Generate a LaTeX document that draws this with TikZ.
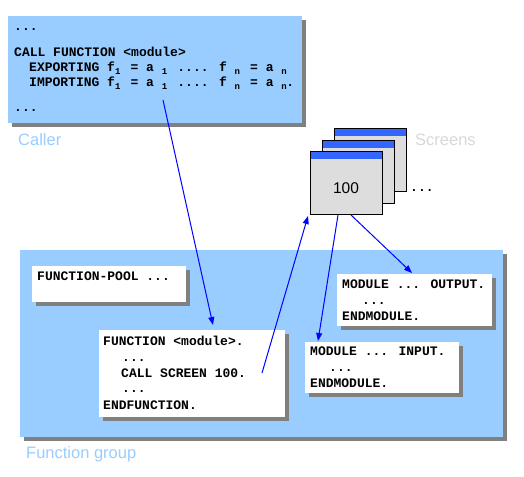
\documentclass[tikz,border=0pt]{standalone}
\usepackage{fontspec}
\setmainfont{Liberation Sans}
\newfontfamily\codefont{Liberation Mono}
\usetikzlibrary{arrows.meta,shadows}
\definecolor{boxblue}{HTML}{99CCFF}
\definecolor{labblue}{HTML}{99CCFF}
\definecolor{labgray}{HTML}{D8D8D8}
\definecolor{shadowgray}{HTML}{808080}
\definecolor{titleblue}{HTML}{3366FF}
\definecolor{screenbody}{HTML}{DDDDDD}
\definecolor{arrowblue}{HTML}{0000FF}
\newcommand\subx[1]{\makebox[7.8pt][l]{\raisebox{-2.5pt}{\fontsize{9}{9}\selectfont #1}}}
\begin{document}
\begin{tikzpicture}[x=1pt,y=-1pt,
  shadowed/.style={drop shadow={shadow xshift=4pt,shadow yshift=-4pt,fill=shadowgray,opacity=1}},
  bluebox/.style={shadowed,fill=boxblue,inner sep=0,anchor=north west},
  whitebox/.style={shadowed,fill=white,inner sep=0,anchor=north west},
  code/.style={anchor=base west,inner sep=0,font=\codefont\bfseries\fontsize{13}{16}\selectfont},
  lab/.style={anchor=base west,inner sep=0,font=\fontsize{16.5}{18}\selectfont},
  screen/.style={draw=black,line width=0.8pt,fill=screenbody,inner sep=0,anchor=north west,minimum width=72pt,minimum height=63pt},
  conn/.style={draw=arrowblue,line width=1pt,-{Triangle[length=8pt,width=6pt]}}]
\useasboundingbox (0,0) rectangle (524,476);

% Caller
\node[bluebox,minimum width=294pt,minimum height=107pt] (caller) at (8,16) {};
\node[code] (c1) at (14,31) {...};
\node[code] (c2) at (14,57) {CALL FUNCTION <module>};
\node[code] (c3) at (29,72) {EXPORTING f\subx{1} = a \subx{1} .... f \subx{n} = a \subx{n}};
\node[code] (c4) at (29,87) {IMPORTING f\subx{1} = a \subx{1} .... f \subx{n} = a \hbox to 5pt{\subx{n}}.};
\node[code] (c5) at (14,111) {...};
\node[lab,text=labblue] (callerlab) at (18,145) {Caller};

% Function group
\node[bluebox,minimum width=483pt,minimum height=187pt] (fgroup) at (20,250) {};
\node[lab,text=labblue] (fglab) at (26,458) {Function group};

\node[whitebox,minimum width=154pt,minimum height=36pt] (fpool) at (32,266) {};
\node[code] (fp1) at (37,280) {FUNCTION-POOL ...};

\node[whitebox,minimum width=186pt,minimum height=87pt] (func) at (99,330) {};
\node[code] (f1) at (103,345) {FUNCTION <module>.};
\node[code] (f2) at (122,361) {...};
\node[code] (f3) at (121,377) {CALL SCREEN 100.};
\node[code] (f4) at (122,392) {...};
\node[code] (f5) at (103,409) {ENDFUNCTION.};

\node[whitebox,minimum width=155pt,minimum height=52pt] (mout) at (337,274) {};
\node[code] (o1) at (342,288) {MODULE ... OUTPUT.};
\node[code] (o2) at (362,304) {...};
\node[code] (o3) at (342,320) {ENDMODULE.};

\node[whitebox,minimum width=154pt,minimum height=51pt] (min) at (305,342) {};
\node[code] (i1) at (310,355) {MODULE ... INPUT.};
\node[code] (i2) at (329,371) {...};
\node[code] (i3) at (310,387) {ENDMODULE.};

% Screens
\node[screen] (scr3) at (334,128) {};
\fill[titleblue] (scr3.north west) rectangle ++(72,8);
\draw[line width=0.8pt] (scr3.north west) rectangle (scr3.south east);
\node[screen] (scr2) at (322,140) {};
\fill[titleblue] (scr2.north west) rectangle ++(72,8);
\draw[line width=0.8pt] (scr2.north west) rectangle (scr2.south east);
\node[screen] (scr) at (310,151) {};
\fill[titleblue] (scr.north west) rectangle ++(72,8);
\draw[line width=0.8pt] (scr.north west) rectangle (scr.south east);
\node[anchor=base,inner sep=0,font=\fontsize{15.5}{17}\selectfont] (s100) at (346,193) {100};
\node[code] (sdots) at (410,191) {...};
\node[lab,text=labgray] (scrlab) at (415,145) {Screens};

% Connectors
\coordinate (a1s) at (163,100);
\coordinate (a1e) at (213,325);
\coordinate (a2s) at (262,373);
\coordinate (a2e) at (308,216);
\coordinate (a3s) at (338,215);
\coordinate (a3e) at (318,341);
\coordinate (a4s) at (351,215);
\coordinate (a4e) at (412,273);
\draw[conn] (a1s) -- (a1e);
\draw[conn] (a2s) -- (a2e);
\draw[conn] (a3s) -- (a3e);
\draw[conn] (a4s) -- (a4e);
\end{tikzpicture}
\end{document}
